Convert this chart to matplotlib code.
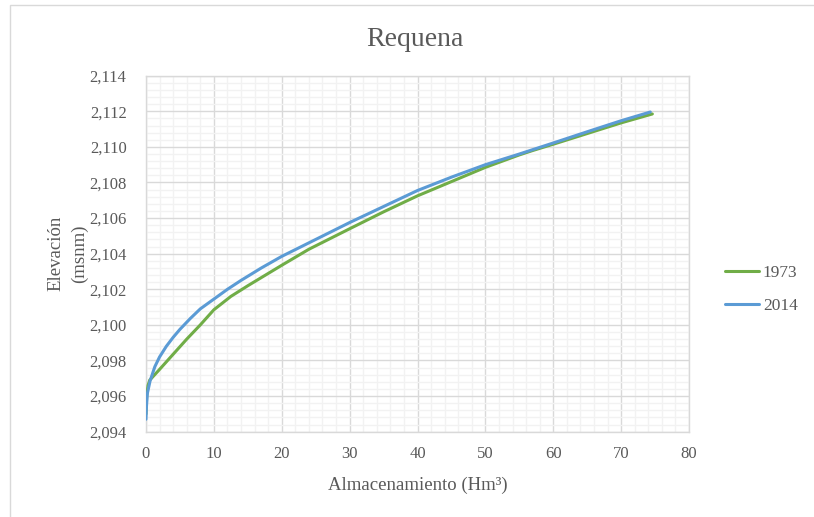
import matplotlib
matplotlib.use("Agg")
import matplotlib.pyplot as plt
from matplotlib.ticker import MultipleLocator, FuncFormatter
from matplotlib.patches import Rectangle

# Elevation-storage curves for the Requena reservoir
storage_1973 = [0, 0.1, 0.3, 0.55, 0.8, 2.0, 4.0, 6.0, 8.0, 10.0, 12.5, 15, 20, 24,
                30, 35, 40, 45, 50, 55, 57, 60, 65, 70, 74.6]
elev_1973 = [2095.0, 2096.0, 2096.6, 2096.9, 2097.0, 2097.5, 2098.35, 2099.2,
             2100.0, 2100.85, 2101.6, 2102.2, 2103.35, 2104.25, 2105.4, 2106.35,
             2107.25, 2108.05, 2108.85, 2109.55, 2109.8, 2110.15, 2110.75,
             2111.35, 2111.85]

storage_2014 = [0, 0.05, 0.2, 0.6, 1.3, 2.0, 3.0, 4.0, 5.0, 6.5, 8.0, 10, 12, 14, 17,
                20, 25, 30, 35, 40, 45, 50, 55, 60, 65, 70, 74.3]
elev_2014 = [2094.7, 2095.3, 2096.15, 2096.85, 2097.65, 2098.2, 2098.8, 2099.3,
             2099.75, 2100.35, 2100.9, 2101.45, 2102.0, 2102.5, 2103.2, 2103.85,
             2104.8, 2105.75, 2106.65, 2107.55, 2108.3, 2109.0, 2109.6, 2110.22,
             2110.85, 2111.47, 2111.96]

series_labels = ["1973", "2014"]
title = "Requena"
x_label = "Almacenamiento (Hm³)"
y_label = "Elevación\n(msnm)"

plt.rcParams["font.family"] = ["Liberation Serif", "DejaVu Serif"]
text_color = "#595959"

fig = plt.figure(figsize=(8.14, 5.17), dpi=100)
ax = fig.add_axes([146 / 814, 1 - 431.7 / 517, (689 - 146) / 814, (431.7 - 75.7) / 517])

ax.plot(storage_1973, elev_1973, color="#70ad47", lw=2.2, label=series_labels[0],
        solid_capstyle="round", zorder=3)
ax.plot(storage_2014, elev_2014, color="#5b9bd5", lw=2.2, label=series_labels[1],
        solid_capstyle="round", zorder=4)

ax.set_xlim(0, 80)
ax.set_ylim(2094, 2114)
ax.xaxis.set_major_locator(MultipleLocator(10))
ax.xaxis.set_minor_locator(MultipleLocator(2))
ax.yaxis.set_major_locator(MultipleLocator(2))
ax.yaxis.set_minor_locator(MultipleLocator(0.4))
ax.yaxis.set_major_formatter(FuncFormatter(lambda v, p: f"{v:,.0f}"))

ax.grid(which="minor", color="#f2f2f2", lw=1.0, zorder=0)
ax.grid(which="major", color="#d9d9d9", lw=1.0, zorder=1)
ax.set_axisbelow(True)
for s in ax.spines.values():
    s.set_color("#d9d9d9")
    s.set_linewidth(1.0)

ax.tick_params(which="both", length=0, colors=text_color, labelsize=12)
ax.tick_params(axis="y", pad=14)
ax.tick_params(axis="x", pad=10)

ax.set_xlabel(x_label, fontsize=13.5, color=text_color, labelpad=11)
ax.set_ylabel(y_label, fontsize=13.5, color=text_color, labelpad=1, linespacing=1.45)
fig.text(415 / 814, 1 - 40 / 517, title, fontsize=20, color=text_color,
         ha="center", va="center")

leg = ax.legend(loc="center left", bbox_to_anchor=(1.037, 0.40), frameon=False,
                fontsize=12.5, handlelength=2.0, handletextpad=0.2, labelspacing=0.95,
                labelcolor=text_color)

# outer chart border
fig.add_artist(Rectangle((10 / 814, -0.1), 1.5, 0.1 + (517 - 5) / 517,
                         transform=fig.transFigure, fill=False,
                         edgecolor="#d9d9d9", lw=1.0))

fig.savefig("out.png", dpi=100)
